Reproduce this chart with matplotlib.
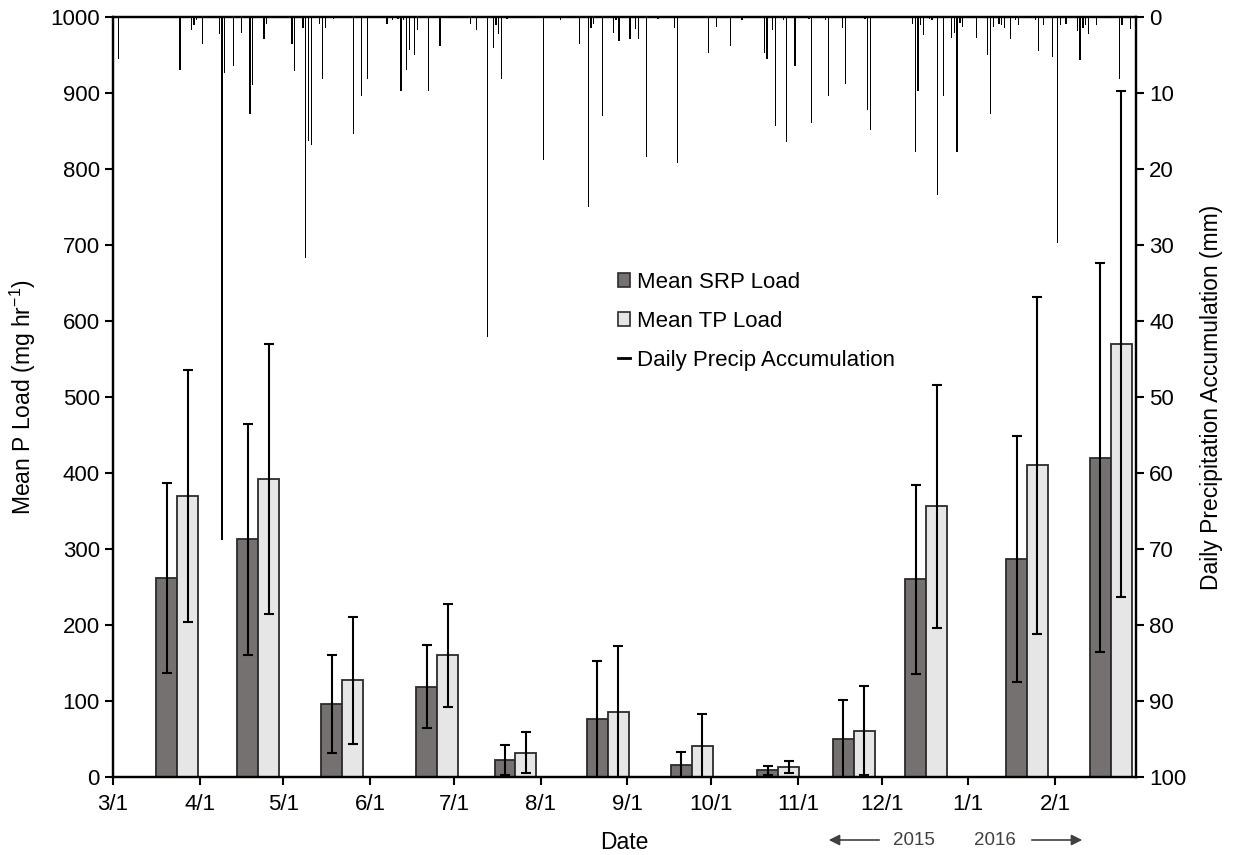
import matplotlib
matplotlib.use('Agg')
import matplotlib.pyplot as plt
import matplotlib.dates as mdates
from matplotlib.patches import Patch
from matplotlib.lines import Line2D
import numpy as np

plt.rcParams['font.family'] = ['Liberation Sans', 'DejaVu Sans']
plt.rcParams['mathtext.fontset'] = 'custom'
plt.rcParams['mathtext.rm'] = 'Liberation Sans'
plt.rcParams['mathtext.default'] = 'regular'

# monthly mean loads (mg/hr), bar-pair centre dates, symmetric error bars
load_dates = ['2015-03-24', '2015-04-22', '2015-05-22', '2015-06-25', '2015-07-23', '2015-08-25',
              '2015-09-24', '2015-10-25', '2015-11-21', '2015-12-17', '2016-01-22', '2016-02-21']
srp_load = [262, 313, 96, 119, 22, 76, 16, 9, 50, 260, 287, 420]
srp_err = [125, 152, 65, 55, 20, 77, 17, 6, 51, 124, 162, 256]
tp_load = [370, 392, 127, 160, 32, 86, 41, 13, 61, 356, 410, 570]
tp_err = [166, 178, 83, 68, 27, 87, 42, 8, 59, 160, 222, 333]

# daily precipitation (mm), day = days after 2015-03-01
precip_day = [2, 24, 28, 29, 30, 32, 38, 39, 40, 43, 46, 49, 50, 54, 55, 64, 65, 68, 69, 70, 71,
              74, 75, 76, 79, 86, 89, 91, 98, 100, 102, 103, 104, 105, 106, 108, 109, 113, 117,
              128, 130, 134, 136, 137, 138, 139, 141, 154, 160, 167, 170, 171, 172, 175, 179, 180,
              181, 185, 187, 188, 191, 195, 201, 202, 213, 216, 221, 225, 233, 234, 236, 237, 240,
              241, 244, 249, 250, 255, 256, 261, 262, 269, 270, 271, 286, 287, 288, 289, 290, 292,
              293, 295, 297, 300, 301, 302, 303, 304, 309, 313, 314, 315, 317, 318, 319, 321, 323,
              324, 330, 331, 333, 336, 338, 339, 341, 345, 346, 347, 348, 349, 352, 360, 361, 364]
precip_mm = [5.5, 7.0, 1.7, 1.0, 0.4, 3.6, 2.2, 68.8, 7.4, 6.4, 2.1, 12.7, 9.0, 2.9, 0.9, 3.6, 7.1,
             1.5, 31.7, 16.3, 16.8, 0.9, 8.2, 1.5, 0.3, 15.4, 10.4, 8.2, 0.9, 0.4, 0.3, 9.8, 0.4,
             7.0, 4.3, 5.0, 1.7, 9.8, 3.8, 0.9, 1.7, 42.1, 4.1, 1.1, 2.2, 8.2, 0.3, 18.8, 0.4, 3.6,
             25.0, 1.5, 0.9, 13.0, 2.1, 0.4, 3.2, 2.9, 1.6, 2.9, 18.4, 0.3, 1.5, 19.2, 4.8, 1.3,
             3.8, 0.4, 4.8, 5.5, 1.7, 14.4, 0.4, 16.5, 6.4, 0.3, 13.9, 0.4, 10.4, 1.5, 8.8, 0.3,
             12.2, 14.9, 0.9, 17.7, 9.7, 1.1, 2.4, 0.3, 0.4, 23.4, 10.4, 2.7, 2.1, 17.7, 0.8, 1.3,
             2.7, 5.0, 12.7, 1.3, 0.9, 1.1, 1.4, 2.9, 0.4, 1.0, 0.4, 4.5, 1.1, 5.3, 29.7, 1.0, 0.9,
             1.9, 5.7, 1.5, 1.1, 2.2, 1.1, 8.2, 1.1, 1.6]

srp_color = '#767171'
tp_color = '#e7e6e6'
edge_color = '#2b2b2b'

fig = plt.figure(figsize=(12.33, 8.55), dpi=100)
ax = fig.add_axes([113 / 1233, 1 - 777 / 855, 1023 / 1233, 760 / 855])

centres = mdates.date2num(np.array(load_dates, dtype='datetime64[D]'))
bw = 7.5
err_kw = dict(ecolor='black', elinewidth=1.5, capsize=3.8, capthick=1.5)
ax.bar(centres - bw / 2, srp_load, width=bw, color=srp_color, edgecolor=edge_color, linewidth=1.3,
       yerr=srp_err, error_kw=err_kw, zorder=2)
ax.bar(centres + bw / 2, tp_load, width=bw, color=tp_color, edgecolor=edge_color, linewidth=1.3,
       yerr=tp_err, error_kw=err_kw, zorder=2)

start = np.datetime64('2015-03-01')
ax.set_xlim(mdates.date2num(start), mdates.date2num(np.datetime64('2016-03-01')))
ax.set_ylim(0, 1000)
ax.set_yticks(np.arange(0, 1001, 100))
month_ticks = mdates.date2num(np.arange('2015-03', '2016-03', dtype='datetime64[M]').astype('datetime64[D]'))
ax.set_xticks(month_ticks)
ax.xaxis.set_major_formatter(plt.FuncFormatter(
    lambda v, p: '{0}/{1}'.format(mdates.num2date(v).month, mdates.num2date(v).day)))
ax.tick_params(axis='both', labelsize=16, width=1.5, length=6, direction='out')
ax.tick_params(axis='x', pad=6)
ax.set_ylabel(r'Mean P Load (mg hr$^{-1}$)', fontsize=16.5, labelpad=9)
ax.set_xlabel('Date', fontsize=16.5, labelpad=12)

# precipitation on an inverted secondary axis, hanging from the top
ax2 = ax.twinx()
p_dates = mdates.date2num(start + np.array(precip_day).astype('timedelta64[D]'))
ax2.bar(p_dates, precip_mm, width=0.45, color='black', linewidth=0)
ax2.set_ylim(100, 0)
ax2.set_yticks(np.arange(0, 101, 10))
ax2.tick_params(axis='y', labelsize=16, width=1.5, length=6, direction='out')
ax2.set_ylabel('Daily Precipitation Accumulation (mm)', fontsize=16.5, labelpad=10)

for a in (ax, ax2):
    for s in a.spines.values():
        s.set_linewidth(1.6)

handles = [Patch(facecolor=srp_color, edgecolor=edge_color, linewidth=1.2),
           Patch(facecolor=tp_color, edgecolor=edge_color, linewidth=1.2),
           Line2D([0], [0], color='black', linewidth=2)]
labels = ['Mean SRP Load', 'Mean TP Load', 'Daily Precip Accumulation']
fig.legend(handles, labels, loc='upper left', bbox_to_anchor=(618 / 1233, 1 - 272 / 855),
           frameon=False, fontsize=16, handlelength=0.55, handleheight=0.55, handletextpad=0.3,
           labelspacing=0.8, borderpad=0, borderaxespad=0)

# year arrows under the axis
yr = 1 - 840 / 855
fig.text(914 / 1233, yr, '2015', fontsize=13.5, color='#404040', ha='center', va='center')
fig.text(995 / 1233, yr, '2016', fontsize=13.5, color='#404040', ha='center', va='center')
arrow = dict(arrowstyle='-|>', color='#404040', lw=1.2, mutation_scale=16)
fig.add_artist(plt.Annotation('', xy=(826 / 1233, yr), xytext=(882 / 1233, yr),
                              xycoords='figure fraction', arrowprops=arrow))
fig.add_artist(plt.Annotation('', xy=(1085 / 1233, yr), xytext=(1029 / 1233, yr),
                              xycoords='figure fraction', arrowprops=arrow))

fig.savefig('out.png', dpi=100)
